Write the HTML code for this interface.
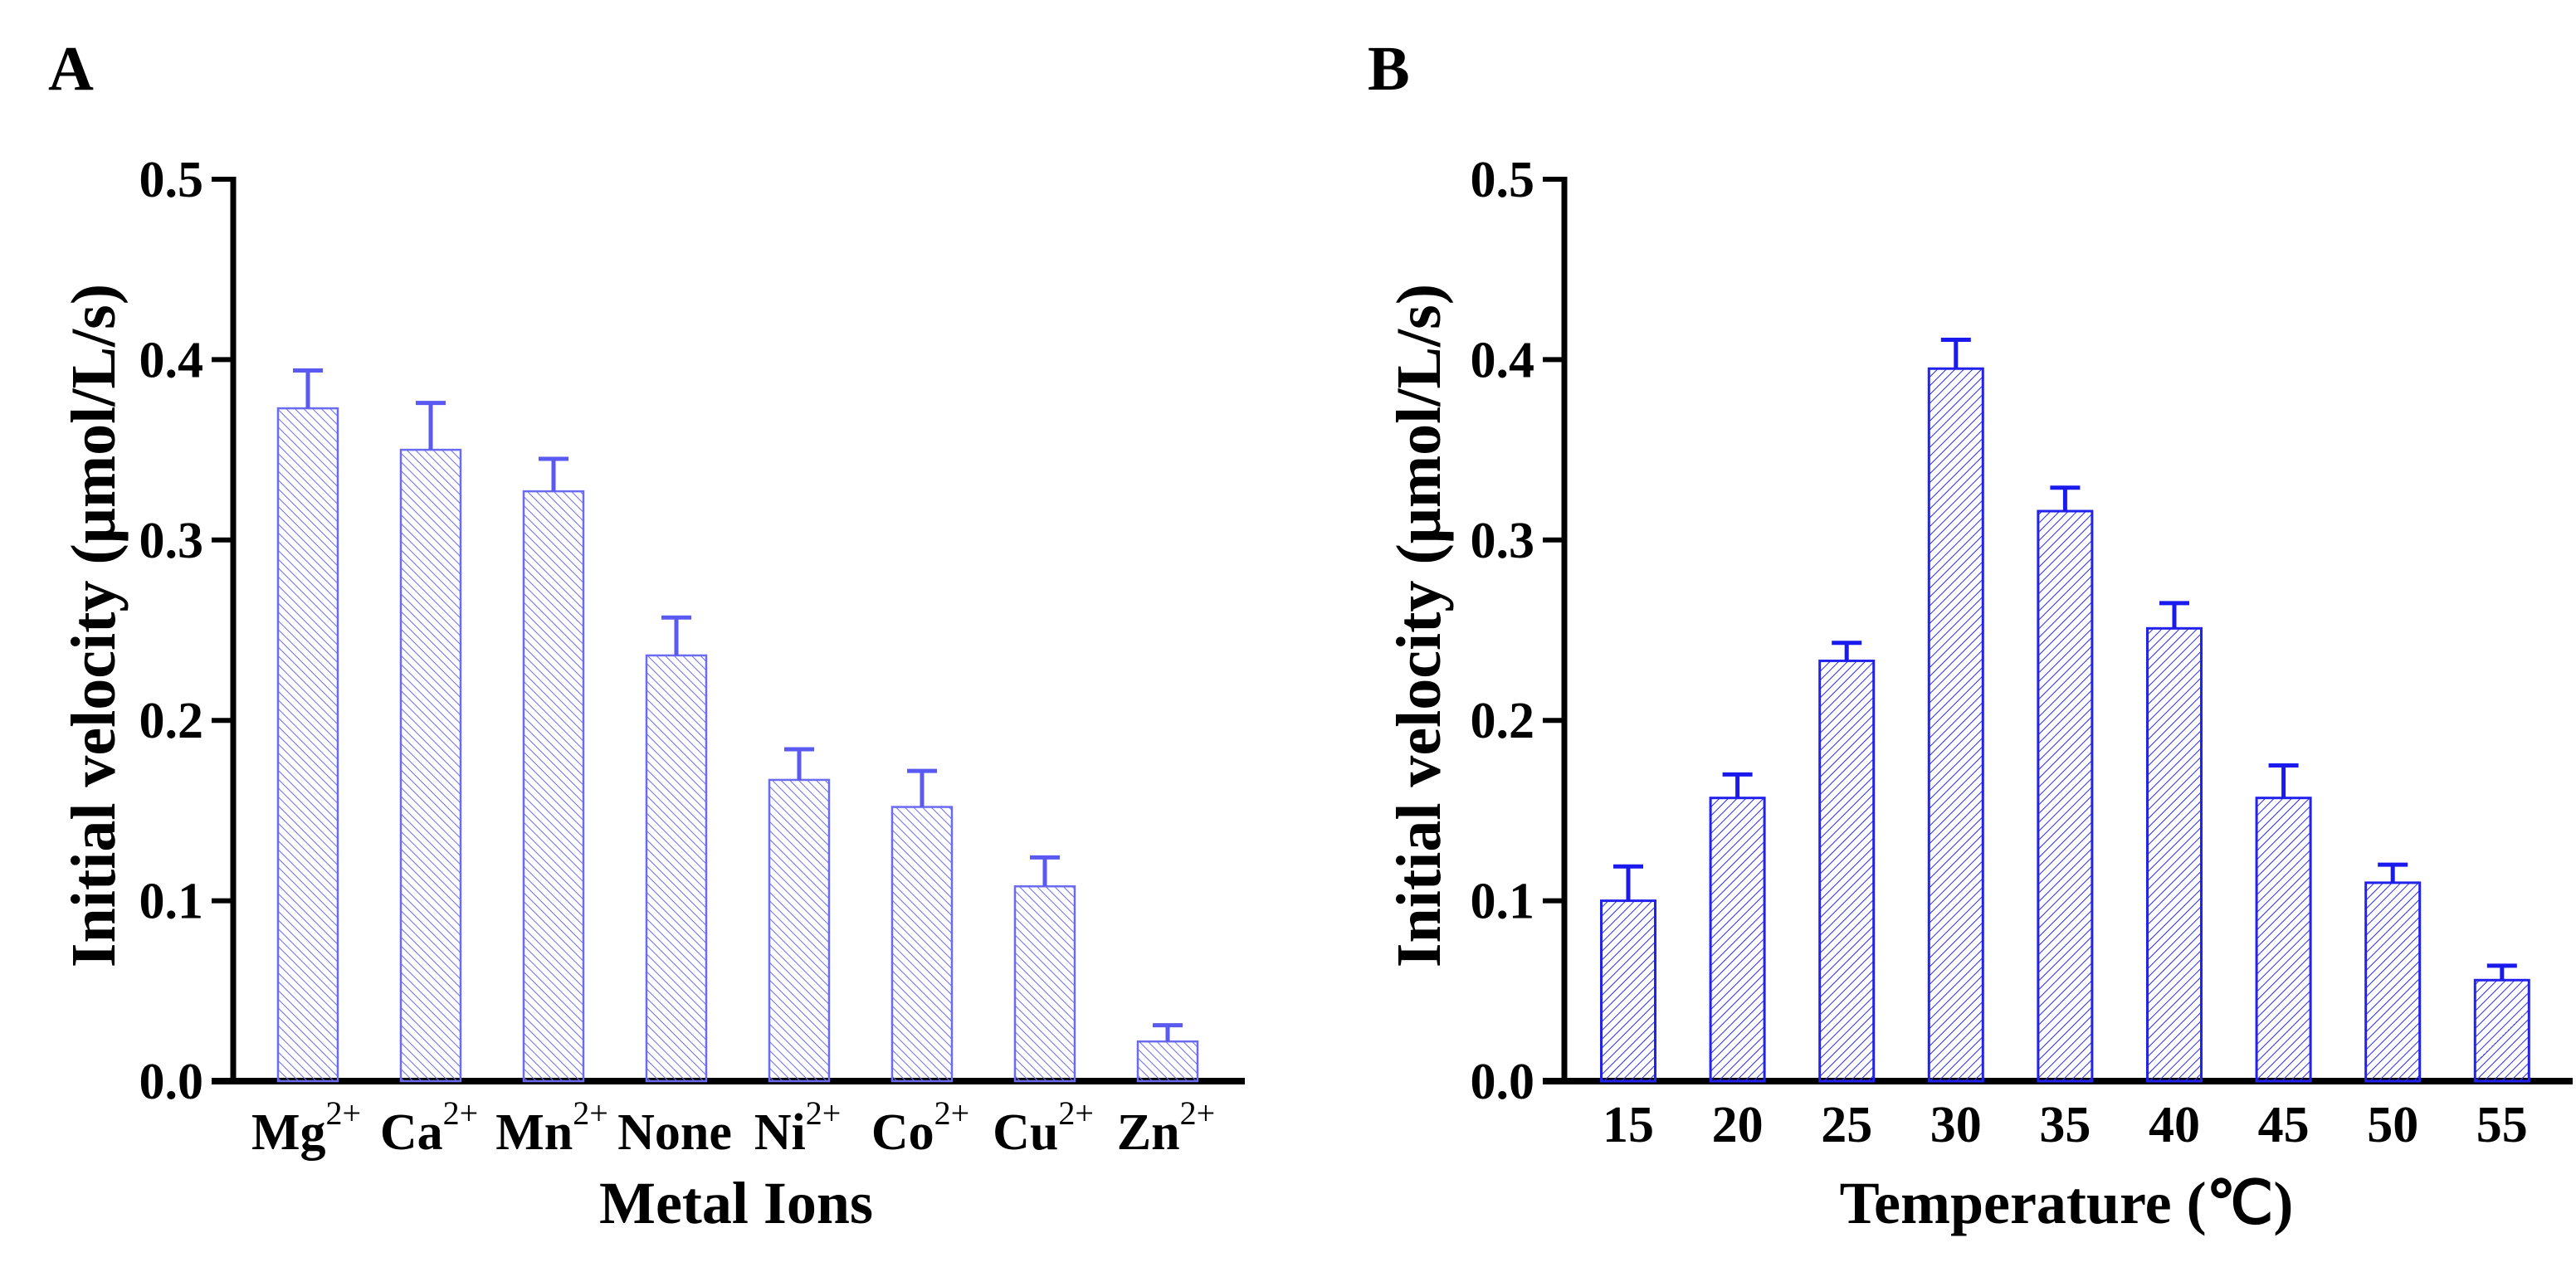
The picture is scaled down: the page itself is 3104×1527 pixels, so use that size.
<!DOCTYPE html>
<html><head><meta charset="utf-8"><style>
html,body{margin:0;padding:0;background:#fff;}
svg text{font-family:"Liberation Serif",serif;font-weight:bold;fill:#000;}
</style></head><body>
<svg id="c" width="3104" height="1522" viewBox="0 0 3104 1522" xmlns="http://www.w3.org/2000/svg">
<defs>
<pattern id="hA" patternUnits="userSpaceOnUse" width="7.5" height="10" patternTransform="rotate(-45)">
<line x1="0" y1="0" x2="0" y2="10" stroke="#6b6bf2" stroke-width="2"/></pattern>
<pattern id="hB" patternUnits="userSpaceOnUse" width="7.5" height="10" patternTransform="rotate(45)">
<line x1="0" y1="0" x2="0" y2="10" stroke="#2a2aee" stroke-width="2"/></pattern>
</defs>
<g id="A"></g>
<g id="B"></g>
</svg>
<script>
const catsA=["Mg","Ca","Mn","None","Ni","Co","Cu","Zn"];
const valsA=[0.373,0.350,0.327,0.236,0.167,0.152,0.108,0.022];
const errA=[0.021,0.026,0.018,0.021,0.017,0.020,0.016,0.009];
const catsB=["15","20","25","30","35","40","45","50","55"];
const valsB=[0.100,0.157,0.233,0.395,0.316,0.251,0.157,0.110,0.056];
const errB=[0.019,0.013,0.010,0.016,0.013,0.014,0.018,0.010,0.008];
const yTicks=["0.0","0.1","0.2","0.3","0.4","0.5"];
const NS="http://www.w3.org/2000/svg";
function mk(p,t,a,txt){const e=document.createElementNS(NS,t);for(const k in a)e.setAttribute(k,a[k]);if(txt!==undefined)e.textContent=txt;p.appendChild(e);return e;}
const Y0=1303,YH=1087;
function panel(g,o){
  const y=v=>Y0-v/0.5*YH;
  const x=i=>o.x0+i*o.step;
  let e=mk(g,'line',{x1:o.ax,y1:y(0.5)-3,x2:o.ax,y2:Y0+3,stroke:'#000','stroke-width':7});
  
  e=mk(g,'line',{x1:o.ax-26,y1:Y0,x2:o.xEnd,y2:Y0,stroke:'#000','stroke-width':8});
  
  yTicks.forEach((t,i)=>{
    const v=parseFloat(t);
    let l=mk(g,'line',{x1:o.ax-26,y1:y(v),x2:o.ax,y2:y(v),stroke:'#000','stroke-width':6});
    
    let tx=mk(g,'text',{x:o.ax-36,y:y(v)+21,'text-anchor':'end','font-size':62},t);
    
  });
  o.vals.forEach((v,i)=>{
    const cx=x(i);
    let r=mk(g,'rect',{x:cx-o.bw/2,y:y(v),width:o.bw,height:Y0-y(v),fill:'url(#'+o.pat+')',stroke:o.col,'stroke-width':o.sw});
    
    const et=y(v+o.errs[i]);
    let eb=mk(g,'path',{d:`M${cx},${y(v)} V${et} M${cx-18},${et} H${cx+18}`,stroke:o.ecol,'stroke-width':5,fill:'none'});
    
    let tx=mk(g,'text',{x:cx+o.lblShift,y:o.lblY,'text-anchor':'middle','font-size':62},o.cats[i]);
    
    if(o.sup&&o.cats[i]!=="None"){mk(tx,'tspan',{'font-size':40,dy:-30,'font-weight':'normal'},'2+');}
  });
  let yt=mk(g,'text',{x:0,y:0,'text-anchor':'middle','font-size':76,transform:`translate(${o.ytx},754) rotate(-90)`},'Initial velocity (μmol/L/s)');
  
  let xt=mk(g,'text',{x:o.xtc,y:1474,'text-anchor':'middle','font-size':72},o.xtitle);
  
  let pl=mk(g,'text',{x:o.lx,y:108,'font-size':76},o.letter);
  
}
panel(document.getElementById('A'),{cats:catsA,vals:valsA,errs:errA,ax:281,xEnd:1500,x0:371,step:148,bw:72,pat:'hA',col:'#6b6bf2',ecol:'#5a5af2',sw:2.5,sup:true,lblShift:-2,lblY:1385,ytx:138,xtc:887,xtitle:'Metal Ions',letter:'A',lx:58});
panel(document.getElementById('B'),{cats:catsB,vals:valsB,errs:errB,ax:1885,xEnd:3100,x0:1962,step:131.6,bw:65,pat:'hB',col:'#2222ee',ecol:'#1a1aee',sw:3,sup:false,lblShift:0,lblY:1376,ytx:1735,xtc:2490,xtitle:'Temperature (℃)',letter:'B',lx:1648});
</script>
</body></html>
